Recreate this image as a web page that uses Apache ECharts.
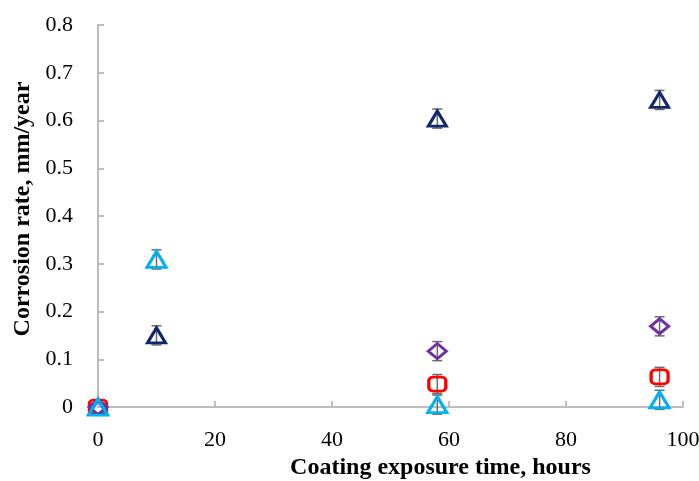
<!DOCTYPE html>
<html><head><meta charset="utf-8">
<script src="https://cdn.jsdelivr.net/npm/echarts@6/dist/echarts.min.js"></script>
<style>html,body{margin:0;padding:0;background:#fff}#c{width:699px;height:481px}</style>
</head><body><div id="c"></div>
<script>
var xTicks = [0, 20, 40, 60, 80, 100];
var yTicks = [0, 0.1, 0.2, 0.3, 0.4, 0.5, 0.6, 0.7, 0.8];
var darkTri = [[0, 0], [10, 0.150], [58, 0.604], [96, 0.643]];
var cyanTri = [[0, 0], [10, 0.309], [58, 0.005], [96, 0.015]];
var purpleDia = [[0, 0], [58, 0.117], [96, 0.169]];
var redSq = [[0, 0], [58, 0.048], [96, 0.063]];
var errHalf = 0.02;

var font = 'Liberation Serif';
function errSeries(data) {
  return {
    type: 'custom', z: 1, silent: true,
    data: data.filter(function (d) { return d[0] !== 0; }).map(function (d) { return [d[0], d[1] - errHalf, d[1] + errHalf]; }),
    renderItem: function (params, api) {
      var x = api.value(0);
      var lo = api.coord([x, api.value(1)]);
      var hi = api.coord([x, api.value(2)]);
      var w = 5;
      var st = { stroke: '#6b6b6b', lineWidth: 1.5 };
      return { type: 'group', children: [
        { type: 'line', shape: { x1: hi[0], y1: hi[1], x2: lo[0], y2: lo[1] }, style: st },
        { type: 'line', shape: { x1: hi[0] - w, y1: hi[1], x2: hi[0] + w, y2: hi[1] }, style: st },
        { type: 'line', shape: { x1: lo[0] - w, y1: lo[1], x2: lo[0] + w, y2: lo[1] }, style: st }
      ]};
    }
  };
}
function sc(data, symbol, size, color) {
  return {
    type: 'scatter', z: 3, data: data, symbol: symbol, symbolSize: size,
    itemStyle: { color: 'rgba(0,0,0,0)', borderColor: color, borderWidth: 3, opacity: 1 }
  };
}
var chart = echarts.init(document.getElementById('c'));
chart.setOption({
  animation: false,
  grid: { left: 98, right: 16, top: 25, bottom: 74, outerBoundsMode: 'none', containLabel: false },
  xAxis: {
    type: 'value', min: 0, max: 100, interval: 20,
    name: 'Coating exposure time, hours', nameLocation: 'middle', nameGap: 48,
    nameTextStyle: { fontFamily: font, fontWeight: 'bold', fontSize: 24, color: '#000', padding: [0, 0, 0, 100] },
    axisLine: { show: true, lineStyle: { color: '#bdbdbd', width: 2 } },
    axisTick: { show: true, inside: true, length: 6, lineStyle: { color: '#bdbdbd', width: 2 } },
    axisLabel: { margin: 22, fontFamily: font, fontSize: 22, color: '#000' },
    splitLine: { show: false }
  },
  yAxis: {
    type: 'value', min: 0, max: 0.8, interval: 0.1,
    name: 'Corrosion rate, mm/year', nameLocation: 'middle', nameGap: 62,
    nameTextStyle: { fontFamily: font, fontWeight: 'bold', fontSize: 24, color: '#000', padding: [0, 0, 0, 14] },
    axisLine: { show: true, lineStyle: { color: '#bdbdbd', width: 2 } },
    axisTick: { show: true, inside: true, length: 6, lineStyle: { color: '#bdbdbd', width: 2 } },
    axisLabel: { margin: 25, fontFamily: font, fontSize: 22, color: '#000',
      formatter: function (v) { return v === 0 ? '0' : v.toFixed(1); } },
    splitLine: { show: false }
  },
  series: [
    errSeries(darkTri), errSeries(cyanTri), errSeries(purpleDia), errSeries(redSq),
    sc(redSq, 'roundRect', [17, 14], '#FF0000'),
    sc(purpleDia, 'diamond', [18, 15], '#7030A0'),
    sc(darkTri, 'triangle', [18, 15], '#12276A'),
    sc(cyanTri, 'triangle', [19, 16], '#00B0F0')
  ]
});
</script></body></html>
